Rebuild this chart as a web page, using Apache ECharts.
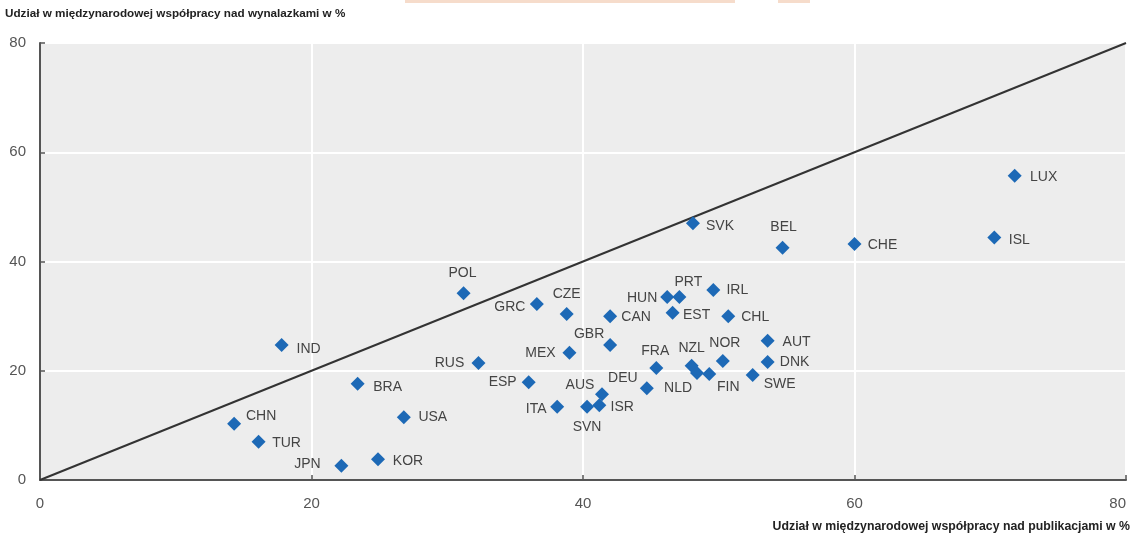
<!DOCTYPE html>
<html>
<head>
<meta charset="utf-8">
<script src="https://cdn.jsdelivr.net/npm/echarts@6/dist/echarts.min.js"></script>
<style>
html,body{margin:0;padding:0;background:#fff;}
#chart{width:1132px;height:535px;}
</style>
</head>
<body>
<div id="chart"></div>
<script>
// ---- data ----
const countries = ["LUX","ISL","CHE","BEL","SVK","POL","GRC","CZE","CAN","HUN","PRT","IRL","EST","CHL","GBR","MEX","RUS","AUT","DNK","NOR","NZL","FRA","NLD","FIN","DEU","SWE","AUS","ISR","SVN","ITA","ESP","USA","BRA","IND","CHN","TUR","JPN","KOR"];
const publications = [71.8,70.3,60.0,54.7,48.1,31.2,36.6,38.8,42.0,46.2,47.1,49.6,46.6,50.7,42.0,39.0,32.3,53.6,53.6,50.3,48.0,45.4,48.4,49.3,44.7,52.5,41.4,41.2,40.3,38.1,36.0,26.8,23.4,17.8,14.3,16.1,22.2,24.9];
const inventions = [55.7,44.4,43.2,42.5,47.0,34.2,32.2,30.4,30.0,33.5,33.5,34.8,30.6,30.0,24.7,23.3,21.4,25.5,21.6,21.8,20.9,20.5,19.6,19.4,16.8,19.2,15.7,13.7,13.4,13.4,17.9,11.5,17.6,24.7,10.3,7.0,2.6,3.8];
const xTicks = [0,20,40,60,80];
const yTicks = [0,20,40,60,80];
const yTitle = "Udział w międzynarodowej współpracy nad wynalazkami w %";
const xTitle = "Udział w międzynarodowej współpracy nad publikacjami w %";

// ---- label placement (pixel offsets of label centre from marker centre) ----
const labelOffset = {
  LUX:[29,1], ISL:[25,3], CHE:[28,1], BEL:[1,-21], SVK:[27,3], POL:[-1,-20], GRC:[-27,3],
  CZE:[0,-20], CAN:[26,1], HUN:[-25,1], PRT:[9,-15], IRL:[24,0], EST:[24,2], CHL:[27,1],
  GBR:[-21,-11], MEX:[-29,0], RUS:[-29,0], AUT:[29,1], DNK:[27,0], NOR:[2,-18], NZL:[0,-18],
  FRA:[-1,-17], NLD:[-19,15], FIN:[19,13], DEU:[-24,-10], SWE:[27,9], AUS:[-22,-9], ISR:[23,2],
  SVN:[0,20], ITA:[-21,2], ESP:[-26,0], USA:[29,0], BRA:[30,3], IND:[27,4], CHN:[27,-8],
  TUR:[28,1], JPN:[-34,-2], KOR:[30,2]
};
const SYM = 14;

const points = countries.map((c,i)=>{
  const o = labelOffset[c] || [25,0];
  return {
    name:c,
    value:[publications[i], inventions[i]],
    label:{position:[SYM/2 + o[0], SYM/2 + o[1]], align:'center', verticalAlign:'middle'}
  };
});

const chart = echarts.init(document.getElementById('chart'), null, {renderer:'canvas'});
const axisCommon = {
  type:'value', min:0, max:80, interval:20,
  axisLine:{show:true, lineStyle:{color:'#555', width:2}},
  axisTick:{show:true, inside:true, length:5, lineStyle:{color:'#555', width:1.5}},
  splitLine:{show:true, lineStyle:{color:'#ffffff', width:2}},
  axisLabel:{color:'#555', fontSize:15, fontFamily:'"Liberation Sans", Arial, sans-serif'}
};
chart.setOption({
  animation:false,
  backgroundColor:'#ffffff',
  grid:{left:40, right:6, top:43, bottom:55, show:true, backgroundColor:'#ededed', borderWidth:0,
        outerBoundsMode:'none', containLabel:false},
  xAxis:Object.assign({}, axisCommon, {axisLabel:Object.assign({}, axisCommon.axisLabel, {margin:16, alignMaxLabel:'right', formatter:v=>xTicks.includes(v)?String(v):''})}),
  yAxis:Object.assign({}, axisCommon, {axisLabel:Object.assign({}, axisCommon.axisLabel, {margin:14, formatter:v=>yTicks.includes(v)?String(v):''})}),
  graphic:[
    {type:'rect', left:405, top:0, shape:{width:330, height:3}, style:{fill:'#f6dccb'}},
    {type:'rect', left:778, top:0, shape:{width:32, height:3}, style:{fill:'#f6dccb'}},
    {type:'text', left:5, top:8, style:{text:yTitle, fill:'#222', font:'bold 11.7px "Liberation Sans", Arial, sans-serif'}},
    {type:'text', right:2, top:521, style:{text:xTitle, fill:'#222', font:'bold 12.3px "Liberation Sans", Arial, sans-serif'}}
  ],
  series:[
    {
      type:'line', data:[[0,0],[80,80]], symbol:'none', silent:true, z:2,
      lineStyle:{color:'#333', width:2}
    },
    {
      type:'scatter', data:points, symbol:'diamond', symbolSize:SYM, z:3,
      itemStyle:{color:'#1d69b6', opacity:1},
      label:{show:true, formatter:'{b}', color:'#444', fontSize:14,
        fontFamily:'"Liberation Sans", Arial, sans-serif'},
      labelLayout:{hideOverlap:false}
    }
  ]
});
</script>
</body>
</html>
